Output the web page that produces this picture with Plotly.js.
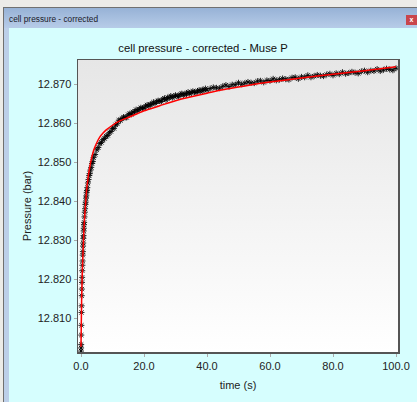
<!DOCTYPE html>
<html>
<head>
<meta charset="utf-8">
<script src="https://cdn.plot.ly/plotly-3.0.1.min.js"></script>
<style>
  html, body { margin:0; padding:0; width:417px; height:402px; overflow:hidden; background:#ecebe8; }
  #frame { position:absolute; left:3px; top:7px; width:414px; height:395px; border-left:1px solid #707070; border-top:1px solid #707070; background:#bccfe9; }
  #titlebar { position:absolute; left:4px; top:8px; width:413px; height:20px; background:linear-gradient(#97b2d6, #b7cce8); }
  #wintitle { position:absolute; left:9px; top:14px; font-family:"Liberation Sans", Arial, sans-serif; font-size:8.3px; color:#1a1a2a; white-space:nowrap; }
  #close { position:absolute; left:406px; top:15px; width:11px; height:10px; background:#c9454b; color:#fff; font:bold 7px "Liberation Sans", Arial, sans-serif; text-align:center; line-height:10px; }
  #content { position:absolute; left:9px; top:28px; width:408px; height:374px; background:#d6fefe; }
  #chart { position:absolute; left:9px; top:28px; width:408px; height:374px; }
</style>
</head>
<body>
<div id="frame"></div>
<div id="titlebar"></div>
<div id="wintitle">cell pressure - corrected</div>
<div id="close">x</div>
<div id="content"></div>
<div id="chart"></div>
<script>
// measured data (time in s, pressure in bar)
const timeData = [
  0, 0.03, 0.06, 0.1, 0.13, 0.16, 0.2, 0.24, 0.28, 0.32, 0.36, 0.4, 0.45, 0.5, 0.55, 0.6, 0.65, 0.7, 0.75, 0.8, 0.85, 0.9, 0.95, 1.0,
  1.1, 1.2, 1.3, 1.4, 1.5, 1.6, 1.7, 1.8, 1.9, 2.0, 2.2, 2.4, 2.6, 2.8, 3.0, 3.25, 3.5, 3.75, 4.0, 4.5, 5.0, 5.5, 6.0, 6.5, 7.0, 7.5, 8.0, 8.5, 9.0, 9.5,
  10, 10.5, 11, 11.5, 12, 12.5, 13, 13.5, 14, 14.5, 15, 15.5, 16, 16.5, 17, 17.5, 18, 18.5, 19, 19.5, 20,
  20.5, 21, 21.5, 22, 22.5, 23, 23.5, 24, 24.5, 25, 25.5, 26, 26.5, 27, 27.5, 28, 28.5, 29, 29.5, 30,
  30.5, 31, 31.5, 32, 32.5, 33, 33.5, 34, 34.5, 35, 35.5, 36, 36.5, 37, 37.5, 38, 38.5, 39, 39.5, 40,
  41, 42, 43, 44, 45, 46, 47, 48, 49, 50, 51, 52, 53, 54, 55, 56, 57, 58, 59, 60,
  61, 62, 63, 64, 65, 66, 67, 68, 69, 70, 71, 72, 73, 74, 75, 76, 77, 78, 79, 80,
  81, 82, 83, 84, 85, 86, 87, 88, 89, 90, 91, 92, 93, 94, 95, 96, 97, 98, 99, 100
];
const pressureData = [
  12.8016, 12.8024, 12.8033, 12.8057, 12.8082, 12.8115, 12.8132, 12.8158, 12.8175, 12.8192, 12.8205, 12.8222, 12.8236, 12.8247, 12.8262, 12.8271, 12.8285, 12.8293, 12.8305, 12.8312, 12.8324, 12.8331, 12.8340, 12.8346,
  12.8360, 12.8372, 12.8381, 12.8392, 12.8398, 12.8408, 12.8414, 12.8423, 12.8428, 12.8435, 12.8447, 12.8456, 12.8466, 12.8471, 12.8480, 12.8487, 12.8497, 12.8502, 12.8512, 12.8520, 12.8532, 12.8538, 12.8548, 12.8551, 12.8558, 12.8561, 12.8567, 12.8569, 12.8576, 12.8579,
  12.8587, 12.8587, 12.8596, 12.8599, 12.8608, 12.8607, 12.8612, 12.8616, 12.8615, 12.8615, 12.8622, 12.8625, 12.8623, 12.8629, 12.8629, 12.8635, 12.8632, 12.8636, 12.8640, 12.8639, 12.8639,
  12.8644, 12.8647, 12.8644, 12.8649, 12.8649, 12.8654, 12.8651, 12.8655, 12.8658, 12.8657, 12.8656, 12.8662, 12.8664, 12.8660, 12.8666, 12.8665, 12.8670, 12.8666, 12.8669, 12.8672,
  12.8670, 12.8669, 12.8674, 12.8676, 12.8672, 12.8676, 12.8675, 12.8680, 12.8676, 12.8679, 12.8682, 12.8680, 12.8679, 12.8683, 12.8685, 12.8681, 12.8686, 12.8685, 12.8689, 12.8685,
  12.8689, 12.8692, 12.8691, 12.8690, 12.8695, 12.8698, 12.8694, 12.8699, 12.8699, 12.8704, 12.8700, 12.8703, 12.8706, 12.8704, 12.8703, 12.8708, 12.8709, 12.8705, 12.8710, 12.8709,
  12.8714, 12.8710, 12.8712, 12.8715, 12.8713, 12.8712, 12.8717, 12.8718, 12.8714, 12.8719, 12.8718, 12.8723, 12.8718, 12.8721, 12.8724, 12.8722, 12.8721, 12.8725, 12.8727, 12.8723,
  12.8728, 12.8726, 12.8731, 12.8727, 12.8729, 12.8732, 12.8730, 12.8728, 12.8733, 12.8735, 12.8731, 12.8735, 12.8734, 12.8739, 12.8734, 12.8737, 12.8740, 12.8738, 12.8736, 12.8741
];
// fitted curve
const fitTime = [0, 0.2, 0.5, 0.8, 1.0, 1.5, 2.0, 3.0, 4.0, 5.0, 6.0, 7.0, 8.0, 10, 12, 15, 18, 20, 25, 30, 35, 40, 45, 50, 55, 60, 70, 80, 90, 100];
const fitPressure = [12.8027, 12.8150, 12.8240, 12.8300, 12.8340, 12.8400, 12.8445, 12.8497, 12.8530, 12.8550, 12.8565, 12.8575, 12.8583, 12.8595, 12.8605, 12.8615, 12.8625, 12.8632, 12.8645, 12.8658, 12.8668, 12.8677, 12.8686, 12.8693, 12.8700, 12.8706, 12.8716, 12.8726, 12.8735, 12.8745];

const xTicks = [0, 20, 40, 60, 80, 100];
const yTicks = [12.81, 12.82, 12.83, 12.84, 12.85, 12.86, 12.87];

const grad = 'data:image/svg+xml;utf8,' + encodeURIComponent(
  '<svg xmlns="http://www.w3.org/2000/svg" width="10" height="100" preserveAspectRatio="none">' +
  '<defs><linearGradient id="g" x1="0" y1="0" x2="0" y2="1"><stop offset="0" stop-color="#e6e6e6"/><stop offset="1" stop-color="#ffffff"/></linearGradient></defs>' +
  '<rect width="10" height="100" fill="url(#g)"/></svg>');

const font = '"Liberation Sans", Arial, sans-serif';

const traces = [
  {
    x: timeData, y: pressureData, type: 'scatter', mode: 'markers',
    marker: { symbol: 'asterisk-open', size: 5, color: 'rgba(0,0,0,0.85)', line: { color: 'rgba(0,0,0,0.85)', width: 1 } },
    hoverinfo: 'skip'
  },
  {
    x: fitTime, y: fitPressure, type: 'scatter', mode: 'lines', line: { color: '#ff0000', width: 1.5, shape: 'spline', smoothing: 0.6 },
    hoverinfo: 'skip'
  }
];

const layout = {
  width: 408, height: 374,
  margin: { l: 69, r: 19, t: 32, b: 50 },
  paper_bgcolor: 'rgba(0,0,0,0)',
  plot_bgcolor: 'rgba(0,0,0,0)',
  showlegend: false,
  font: { family: font, size: 11, color: '#222' },
  title: { text: 'cell pressure - corrected - Muse P', font: { family: font, size: 11.3, color: '#111' }, x: 0.4755, xanchor: 'center', xref: 'container', y: 0.947, yanchor: 'middle', yref: 'container' },
  images: [{ source: grad, xref: 'paper', yref: 'paper', x: 0, y: 1, sizex: 1, sizey: 1, sizing: 'stretch', layer: 'below' }],
  xaxis: {
    range: [-0.952, 100.63], tickvals: xTicks, tickformat: '.1f',
    showgrid: false, zeroline: false, showline: true, mirror: true, linecolor: '#555', linewidth: 1.5,
    ticks: 'outside', ticklen: 3, tickcolor: '#aaa', tickfont: { size: 11, color: '#222' },
    title: { text: 'time (s)', font: { size: 11, color: '#222' }, standoff: 10 }
  },
  yaxis: {
    range: [12.80136, 12.87623], tickvals: yTicks, tickformat: '.3f',
    showgrid: false, zeroline: false, showline: true, mirror: true, linecolor: '#555', linewidth: 1.5,
    ticks: 'outside', ticklen: 3, tickcolor: '#aaa', tickfont: { size: 11, color: '#222' },
    title: { text: 'Pressure (bar)', font: { size: 11, color: '#222' }, standoff: 4 }
  }
};

Plotly.newPlot('chart', traces, layout, { staticPlot: true, displayModeBar: false });
</script>
</body>
</html>
